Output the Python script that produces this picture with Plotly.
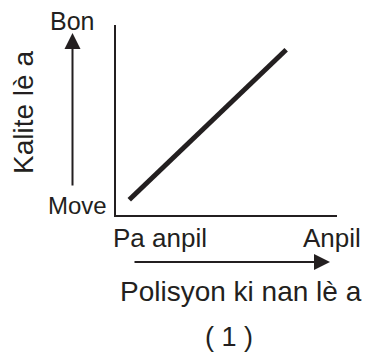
import plotly.graph_objects as go

W, H = 367, 358

# schematic values (axis units 0-10)
pollution = [0.6, 7.7]
quality = [0.8, 8.7]

x_labels = ['Pa anpil', 'Anpil']
y_labels = ['Move', 'Bon']
x_title = 'Polisyon ki nan lè a'
y_title = 'Kalite lè a'
caption = '( 1 )'

INK = '#231f20'
FONT = 'Liberation Sans, Arial, sans-serif'


def px(x):
    return x / W


def py(y):
    return 1 - y / H


fig = go.Figure()
fig.add_trace(go.Scatter(
    x=pollution, y=quality, mode='lines',
    line=dict(color=INK, width=5), hoverinfo='skip'
))

annotations = [
    # axis arrows
    dict(x=px(72.5), y=py(33), ax=0, ay=154, showarrow=True, text='',
         arrowhead=2, arrowsize=1.6, arrowwidth=2, arrowcolor=INK, standoff=0),
    dict(x=px(330), y=py(262), ax=-197, ay=0, showarrow=True, text='',
         arrowhead=2, arrowsize=1.6, arrowwidth=2, arrowcolor=INK, standoff=0),
    # labels
    dict(x=px(72), y=py(21), text=y_labels[1], font_size=25),
    dict(x=px(77), y=py(205), text=y_labels[0], font_size=24),
    dict(x=px(24), y=py(113), text=y_title, font_size=28, textangle=-90),
    dict(x=px(160), y=py(238), text=x_labels[0], font_size=26),
    dict(x=px(332), y=py(238), text=x_labels[1], font_size=26),
    dict(x=px(241), y=py(291), text=x_title, font_size=28),
    dict(x=px(229), y=py(337), text=caption, font_size=27),
]
for a in annotations:
    a.setdefault('showarrow', False)
    a.setdefault('xanchor', 'center')
    a.setdefault('yanchor', 'middle')
    a['xref'] = 'paper'
    a['yref'] = 'paper'
    a['font'] = dict(family=FONT, color=INK, size=a.pop('font_size', 24))

fig.update_layout(
    width=W, height=H,
    margin=dict(l=0, r=0, t=0, b=0),
    paper_bgcolor='white', plot_bgcolor='white',
    showlegend=False,
    annotations=annotations,
    xaxis=dict(domain=[px(116), px(337)], range=[0, 10],
               showline=True, linecolor=INK, linewidth=2,
               showgrid=False, zeroline=False, showticklabels=False, ticks=''),
    yaxis=dict(domain=[py(215), py(25)], range=[0, 10],
               showline=True, linecolor=INK, linewidth=2,
               showgrid=False, zeroline=False, showticklabels=False, ticks=''),
)

# drop the default body margin so the figure fills the window exactly
fig.write_html(
    "out.html",
    config={'displayModeBar': False},
    post_script="document.body.style.margin='0';document.body.style.overflow='hidden';",
)
